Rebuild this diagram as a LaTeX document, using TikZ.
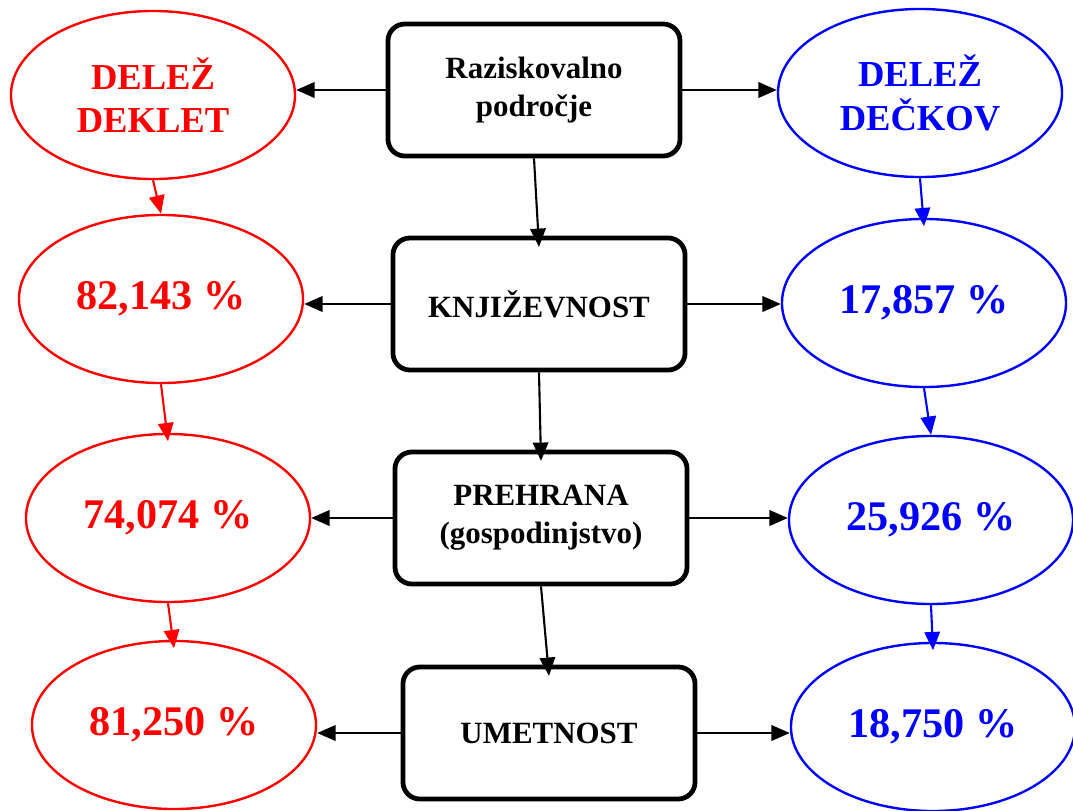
\documentclass[tikz,border=0pt]{standalone}
\usepackage{fontspec}
\setmainfont{Liberation Serif}
\usetikzlibrary{arrows.meta, positioning, shapes.geometric}
\definecolor{girlred}{RGB}{255,0,0}
\definecolor{boyblue}{RGB}{0,0,255}

\begin{document}
\begin{tikzpicture}[
    x=0.025cm, y=-0.025cm,
    area/.style={draw,line width=3.4pt,rounded corners=12pt,minimum width=7.3cm,
                 minimum height=3.3cm,align=center,inner sep=0pt,
                 font=\bfseries\fontsize{22}{27}\selectfont},
    share/.style={ellipse,draw,line width=1.7pt,minimum width=7.1cm,minimum height=4.2cm,
                  align=center,inner sep=0pt,font=\bfseries\fontsize{30}{35}\selectfont},
    girls/.style={share,girlred,text=girlred},
    boys/.style={share,boyblue,text=boyblue},
    arr/.style={-{Triangle[length=13pt,width=11pt]},line width=1.5pt}
]
  \useasboundingbox (0,0) rectangle (1073,810);

  % Areas (middle column)
  \node[area] (field) at (534,90)  {Raziskovalno\\področje};
  \node[area] (lit)   at (539,304) {KNJIŽEVNOST};
  \node[area] (food)  at (541,518) {PREHRANA\\(gospodinjstvo)};
  \node[area] (art)   at (549,733) {UMETNOST};

  % Girls (left column)
  \node[girls,font=\bfseries\fontsize{26}{31}\selectfont] (gtop) at (153,95) {DELEŽ\\DEKLET};
  \node[girls] (glit)  at (161,299) {82,143 \%};
  \node[girls] (gfood) at (168,518) {74,074 \%};
  \node[girls] (gart)  at (174,725) {81,250 \%};

  % Boys (right column)
  \node[boys,font=\bfseries\fontsize{26}{31}\selectfont] (btop) at (920,93) {DELEŽ\\DEČKOV};
  \node[boys] (blit)  at (924,303) {17,857 \%};
  \node[boys] (bfood) at (931,520) {25,926 \%};
  \node[boys] (bart)  at (933,727) {18,750 \%};

  % Middle column down
  \draw[arr] (field.south) -- ([yshift=-8pt]lit.north);
  \draw[arr] (lit.south) -- ([yshift=-8pt]food.north);
  \draw[arr] (food.south) -- ([yshift=-8pt]art.north);

  % Areas to shares
  \foreach \a/\g/\b in {field/gtop/btop, lit/glit/blit, food/gfood/bfood, art/gart/bart}{
    \draw[arr] (\a.west) -- (\g.east |- \a.west);
    \draw[arr] (\a.east) -- (\b.west |- \a.east);
  }

  % Shares down
  \draw[arr,girlred] (gtop.south) -- (glit.north);
  \draw[arr,girlred] (glit.south) -- ([yshift=-6pt]gfood.north);
  \draw[arr,girlred] (gfood.south) -- ([yshift=-6pt]gart.north);
  \draw[arr,boyblue] (btop.south) -- ([yshift=-6pt]blit.north);
  \draw[arr,boyblue] (blit.south) -- (bfood.north);
  \draw[arr,boyblue] (bfood.south) -- ([yshift=-6pt]bart.north);
\end{tikzpicture}
\end{document}
